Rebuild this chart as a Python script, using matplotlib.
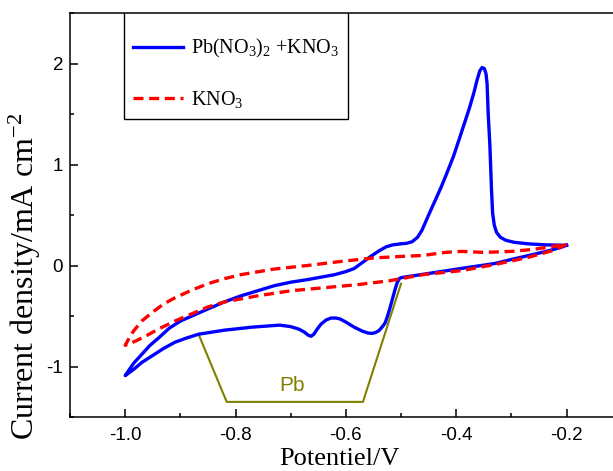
import matplotlib
matplotlib.use('Agg')
import matplotlib.pyplot as plt
from matplotlib.ticker import MultipleLocator

plt.rcParams['axes.unicode_minus'] = False
plt.rcParams['mathtext.fontset'] = 'custom'
plt.rcParams['mathtext.rm'] = 'Liberation Serif'
plt.rcParams['mathtext.it'] = 'Liberation Serif:italic'

# CV in Pb(NO3)2 + KNO3 (cathodic sweep first, then the return sweep)
pb_x = [-0.20, -0.21, -0.23, -0.26, -0.30, -0.33, -0.38, -0.44, -0.50,
        -0.503, -0.507, -0.511, -0.515, -0.520, -0.525, -0.529, -0.533,
        -0.540, -0.547, -0.553, -0.560, -0.570, -0.585, -0.600, -0.610, -0.618,
        -0.627, -0.636, -0.645, -0.652, -0.658, -0.663, -0.668, -0.675, -0.685,
        -0.700, -0.720, -0.770, -0.820, -0.867, -0.890, -0.910, -0.930, -0.950,
        -0.970, -0.985, -1.000,
        -0.995, -0.985, -0.970, -0.955, -0.940, -0.920, -0.900, -0.875, -0.850,
        -0.820, -0.790, -0.760, -0.730, -0.700, -0.670, -0.640, -0.620, -0.600,
        -0.585, -0.570, -0.555, -0.540, -0.527, -0.515, -0.500, -0.490, -0.480,
        -0.470, -0.462, -0.450, -0.436, -0.427, -0.418, -0.405, -0.394, -0.385,
        -0.376, -0.368, -0.362, -0.357, -0.353, -0.349, -0.346, -0.344, -0.342,
        -0.339, -0.336, -0.334, -0.331, -0.327, -0.320, -0.310, -0.295, -0.270,
        -0.240, -0.200]
pb_y = [0.20, 0.18, 0.15, 0.11, 0.06, 0.02, -0.02, -0.07, -0.12,
        -0.13, -0.17, -0.24, -0.32, -0.42, -0.51, -0.57, -0.60,
        -0.645, -0.665, -0.672, -0.668, -0.65, -0.61, -0.56, -0.53, -0.52,
        -0.52, -0.54, -0.58, -0.63, -0.68, -0.70, -0.69, -0.66, -0.63,
        -0.605, -0.59, -0.61, -0.64, -0.68, -0.72, -0.76, -0.82, -0.89,
        -0.96, -1.03, -1.09,
        -1.05, -0.97, -0.88, -0.79, -0.72, -0.62, -0.55, -0.49, -0.43,
        -0.36, -0.30, -0.25, -0.20, -0.165, -0.14, -0.11, -0.09, -0.06,
        -0.03, 0.03, 0.09, 0.145, 0.185, 0.205, 0.215, 0.22, 0.235,
        0.28, 0.35, 0.50, 0.67, 0.78, 0.90, 1.08, 1.26, 1.41,
        1.56, 1.71, 1.84, 1.93, 1.96, 1.95, 1.90, 1.80, 1.50,
        1.20, 0.75, 0.52, 0.40, 0.33, 0.28, 0.25, 0.23, 0.215,
        0.205, 0.20]

# CV in KNO3 only
k_x = [-0.20, -0.224, -0.27, -0.33, -0.39, -0.46, -0.52, -0.58, -0.64, -0.70,
       -0.76, -0.82, -0.85, -0.88, -0.91, -0.94, -0.96, -0.98, -0.995, -1.00,
       -0.995, -0.985, -0.97, -0.95, -0.93, -0.91, -0.88, -0.85, -0.82, -0.79,
       -0.73, -0.67, -0.61, -0.55, -0.50, -0.46, -0.42, -0.39, -0.35, -0.30,
       -0.26, -0.20]
k_y = [0.21, 0.15, 0.08, 0.01, -0.05, -0.09, -0.15, -0.19, -0.22, -0.25,
       -0.30, -0.36, -0.41, -0.48, -0.55, -0.63, -0.69, -0.745, -0.78, -0.79,
       -0.74, -0.65, -0.55, -0.46, -0.38, -0.32, -0.245, -0.18, -0.13, -0.09,
       -0.035, 0.00, 0.04, 0.075, 0.09, 0.10, 0.13, 0.14, 0.13, 0.14,
       0.16, 0.21]

# bracket marking the Pb deposition region
pb_mark_x = [-0.867, -0.816, -0.569, -0.50]
pb_mark_y = [-0.68, -1.35, -1.35, -0.18]

fig = plt.figure(figsize=(6.13, 4.71), dpi=100)
ax = fig.add_axes([0.1142, 0.1146, 0.900, 0.8577])

ax.plot(pb_x, pb_y, color='#0000ff', lw=2.4, label=r'Pb(NO$_3$)$_2$ +KNO$_3$', zorder=3,
        solid_joinstyle='round')
ax.plot(k_x, k_y, color='#ff0000', lw=2.4, ls=(0, (3.0, 1.7)), label=r'KNO$_3$', zorder=4)
ax.plot(pb_mark_x, pb_mark_y, color='#808000', lw=1.5, zorder=2)
ax.text(-0.698, -1.19, 'Pb', color='#808000', fontsize=15, family='Liberation Sans',
        ha='center', va='center')

ax.set_xlim(-1.1, -0.1)
ax.set_ylim(-1.5, 2.5)
ax.xaxis.set_major_locator(MultipleLocator(0.2))
ax.xaxis.set_minor_locator(MultipleLocator(0.1))
ax.yaxis.set_major_locator(MultipleLocator(1))
ax.yaxis.set_minor_locator(MultipleLocator(0.5))
ax.xaxis.set_major_formatter(plt.FormatStrFormatter('%.1f'))
ax.yaxis.set_major_formatter(plt.FormatStrFormatter('%d'))

ax.tick_params(which='both', direction='in', width=1.1, top=False, right=False)
ax.tick_params(which='major', length=6)
ax.tick_params(which='minor', length=3)
ax.tick_params(axis='x', pad=7.5)
ax.tick_params(axis='y', pad=5)
for lab in ax.get_xticklabels() + ax.get_yticklabels():
    lab.set_fontfamily('Liberation Sans')
    lab.set_fontsize(13.5)
for sp in ax.spines.values():
    sp.set_linewidth(1.1)
    sp.set_zorder(6)

ax.set_xlabel('Potentiel/V', family='Liberation Serif', fontsize=19)
ax.set_ylabel(r'Current density/mA cm$^{-2}$', family='Liberation Serif', fontsize=23)
ax.yaxis.label.set_va('center')
ax.xaxis.set_label_coords(0.489, -0.077)
ax.yaxis.set_label_coords(-0.082, 0.347)

# legend frame top sits just above the axes top, so the spine closes the box
leg = ax.legend(loc='upper left', bbox_to_anchor=(0.098, 1.042), frameon=True,
                fancybox=False, edgecolor='black', framealpha=1,
                prop={'family': 'Liberation Serif', 'size': 14.5},
                handlelength=2.5, handletextpad=0.35, labelspacing=1.4,
                borderpad=0.45, borderaxespad=0, title=' ', title_fontsize=2)
leg.get_frame().set_linewidth(1.0)
leg.get_frame().set_clip_on(True)
leg.get_frame().set_clip_box(ax.bbox)

fig.savefig('out.png', dpi=100)
